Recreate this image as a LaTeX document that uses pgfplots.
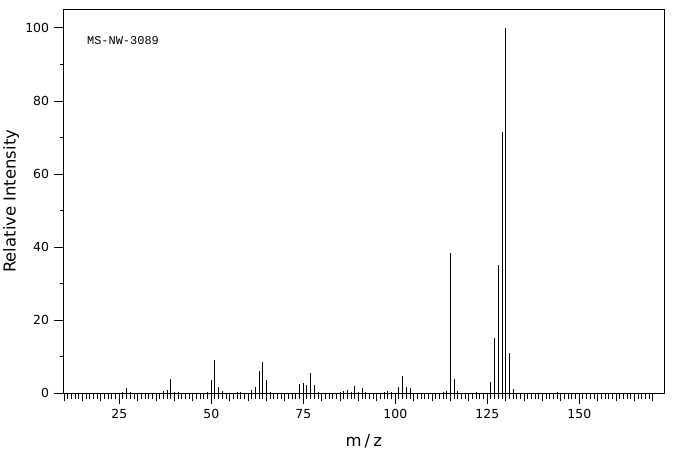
\documentclass[border=0pt]{standalone}
\usepackage{fontspec}
\setmainfont{DejaVu Sans}
\setmonofont{Liberation Mono}
\usepackage{pgfplots}
\pgfplotsset{compat=1.18}
\pgfplotstableread{
mz inten
26 0.3
27 1.4
28 0.3
37 0.5
38 0.8
39 3.9
40 0.3
41 0.3
49 0.4
50 3.6
51 9.1
52 1.6
53 0.5
57 0.3
58 0.3
61 0.8
62 1.6
63 6.1
64 8.6
65 3.6
66 0.3
74 2.5
75 2.9
76 2.3
77 5.6
78 2.2
79 0.3
85 0.3
86 0.5
87 0.8
88 0.3
89 1.9
90 0.3
91 1.4
92 0.3
97 0.3
98 0.6
99 0.3
101 1.6
102 4.8
103 1.6
104 1.4
113 0.3
114 0.5
115 38.5
116 3.9
117 0.6
122 0.3
126 3.0
127 15.2
128 35.2
129 71.5
130 100
131 11.1
132 1.1
144 0.3
}\spectrum
\begin{document}
\begin{tikzpicture}
\begin{axis}[
  scale only axis, width=601bp, height=384bp,
  xmin=9.78, xmax=173.1, ymin=0, ymax=105.1,
  axis line style={line width=1bp},
  tick align=outside, xtick pos=bottom, ytick pos=left,
  xtick={25,50,...,150},
  minor xtick={10,11,...,170},
  extra x ticks={10,15,...,170},
  extra x tick labels={},
  extra x tick style={xtick style={/pgfplots/major tick length=8bp}},
  xtick style={/pgfplots/major tick length=10.5bp, /pgfplots/minor tick length=6bp, line width=1bp, black},
  ytick={0,20,...,100},
  minor ytick={10,30,...,90},
  ytick style={/pgfplots/major tick length=9bp, /pgfplots/minor tick length=3.7bp, line width=1bp, black},
  /pgf/number format/assume math mode=true,
  tick label style={font=\fontsize{12.5}{14}\selectfont},
  xticklabel style={yshift=-8bp},
  yticklabel style={xshift=-6.5bp},
  xlabel={m\hspace{3bp}/\hspace{3bp}z},
  ylabel={Relative Intensity},
  label style={font=\fontsize{16.5}{18}\selectfont},
  xlabel style={at={(axis description cs:0.5,-0.1398)}, anchor=base, inner sep=0pt},
  ylabel style={at={(axis description cs:-0.0792,0.5)}, anchor=base, inner sep=0pt},
]
\addplot[ycomb, black, line width=1bp, mark=none] table[x=mz, y=inten] {\spectrum};
\node[anchor=base west, inner sep=0pt, font=\ttfamily\fontsize{12}{13}\selectfont] at (axis cs:16.2,95.5) {MS-NW-3089};
\coordinate (sw) at (rel axis cs:0,0);
\coordinate (ne) at (rel axis cs:1,1);
\end{axis}
\path ([xshift=-63.3bp,yshift=-61.7bp]sw) rectangle ([xshift=11.7bp,yshift=9.3bp]ne);
\end{tikzpicture}
\end{document}
